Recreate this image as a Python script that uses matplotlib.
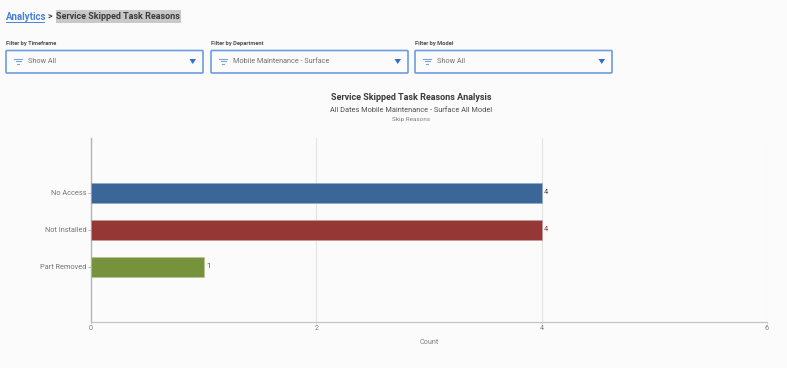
import matplotlib
matplotlib.use('Agg')
import matplotlib.pyplot as plt
from matplotlib.patches import FancyBboxPatch, Rectangle, Polygon

reasons = ['No Access', 'Not Installed', 'Part Removed']
counts = [4, 4, 1]
bar_colors = ['#3b6698', '#953735', '#76923c']
edge_colors = ['#8fa9c8', '#c99a99', '#b3c68f']
label_colors = ['#4a4a4a', '#953735', '#4a4a4a']
x_ticks = [0, 2, 4, 6]
filter_labels = ['Filter by Timeframe', 'Filter by Department', 'Filter by Model']
filter_values = ['Show All', 'Mobile Maintenance - Surface', 'Show All']

BG = '#fbfbfb'
plt.rcParams['font.family'] = ['Roboto', 'DejaVu Sans']

fig = plt.figure(figsize=(7.87, 3.68), dpi=100, facecolor=BG)

# page furniture, drawn in pixel coordinates
ui = fig.add_axes([0, 0, 1, 1])
ui.set_xlim(0, 787)
ui.set_ylim(368, 0)
ui.axis('off')

ui.text(6, 16.5, 'Analytics', fontsize=6.9, fontweight='bold', color='#4a82d8', va='center')
ui.plot([6, 43.5], [21.5, 21.5], color='#4a82d8', lw=0.7)
ui.text(47.5, 16.5, '>', fontsize=6.5, fontweight='bold', color='#444444', va='center')
ui.add_patch(Rectangle((55.5, 9.5), 125.5, 13, color='#c8c8c8', lw=0))
ui.text(56, 16.5, 'Service Skipped Task Reasons', fontsize=6.45, fontweight='bold', color='#3a3a3a', va='center')

for left, name, value in zip([6, 211, 415], filter_labels, filter_values):
    ui.text(left, 43, name, fontsize=4.15, fontweight='bold', color='#505050', va='center')
    ui.add_patch(FancyBboxPatch((left, 50.5), 197, 22.5, boxstyle='round,pad=0,rounding_size=1',
                                fc=BG, ec='#6b9de0', lw=1.2))
    # filter icon
    ui.plot([left + 8, left + 16], [58.5, 58.5], color='#7aa3de', lw=0.8)
    ui.plot([left + 9.5, left + 14.5], [61, 61], color='#7aa3de', lw=0.8)
    ui.plot([left + 11, left + 13], [63.5, 63.5], color='#7aa3de', lw=0.8)
    ui.text(left + 22, 61.5, value, fontsize=5.2, color='#707070', va='center')
    ui.add_patch(Polygon([(left + 183.5, 59), (left + 190, 59), (left + 186.75, 64)],
                         color='#2f6fd0', lw=0))

ui.text(411, 98, 'Service Skipped Task Reasons Analysis', fontsize=6.5, fontweight='bold',
        color='#3a3a3a', ha='center', va='center')
ui.text(411, 110, 'All Dates Mobile Maintenance - Surface All Model', fontsize=5.35,
        color='#505050', ha='center', va='center')
ui.text(411, 120, 'Skip Reasons', fontsize=4.6, color='#808080', ha='center', va='center')

# chart
ax = fig.add_axes([91 / 787, 1 - 322 / 368, (767 - 91) / 787, (322 - 137.5) / 368])
ax.patch.set_alpha(0)
positions = list(range(len(reasons)))
ax.barh(positions, counts, height=0.54, color=bar_colors, edgecolor=edge_colors, linewidth=0.5, zorder=3)
ax.set_xlim(0, 6)
ax.set_ylim(3.5, -1.5)
ax.set_xticks(x_ticks)
ax.set_yticks(positions, reasons)
ax.tick_params(axis='y', length=2, width=0.6, color='#aaaaaa', labelsize=5.35, labelcolor='#757575', pad=1)
ax.tick_params(axis='x', length=1.5, width=0.6, color='#cccccc', labelsize=5.2, labelcolor='#808080', pad=0.5)
ax.grid(axis='x', color='#e4e4e4', lw=0.8, zorder=0)
for side in ['top', 'right']:
    ax.spines[side].set_visible(False)
ax.spines['left'].set_color('#b4b4b4')
ax.spines['left'].set_linewidth(1.0)
ax.spines['bottom'].set_color('#c4c4c4')
ax.spines['bottom'].set_linewidth(0.9)
ax.set_xlabel('Count', fontsize=5.2, color='#808080', labelpad=5.5)

for pos, val, col in zip(positions, counts, label_colors):
    ax.annotate(str(val), (val, pos), xytext=(1.6, 0), textcoords='offset points',
                fontsize=5.4, color=col, va='center', ha='left')

plt.savefig('out.png', dpi=100, facecolor=BG)
